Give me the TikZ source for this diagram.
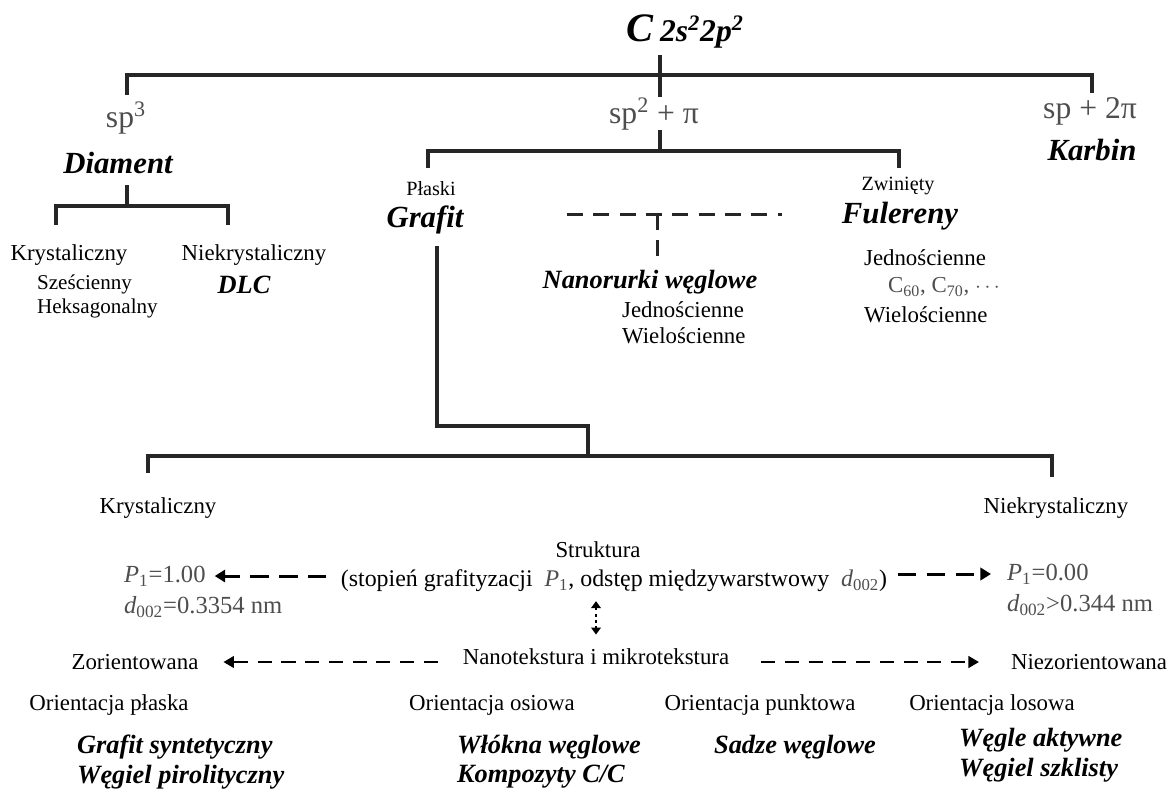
\documentclass[tikz,border=0pt]{standalone}
\usepackage{fontspec}
\setmainfont{Liberation Serif}
\usetikzlibrary{positioning,arrows.meta}
\definecolor{hybgray}{RGB}{78,78,78}

\begin{document}
\begin{tikzpicture}[
        x=0.02cm, y=-0.02cm,
        every node/.style={inner sep=1pt},
        txt/.style={font=\fontsize{13}{15}\selectfont},
        small/.style={font=\fontsize{11.5}{13}\selectfont},
        subtype/.style={font=\fontsize{12}{14}\selectfont},
        family/.style={font=\fontsize{17.5}{20}\selectfont\bfseries\itshape},
        product/.style={font=\fontsize{15}{18}\selectfont\bfseries\itshape},
        hybrid/.style={font=\fontsize{18}{20}\selectfont, text=hybgray},
        param/.style={font=\fontsize{14}{16}\selectfont, text=hybgray, inner xsep=5pt},
        tree/.style={line width=2pt, draw=black!85},
        dashtree/.style={line width=1.7pt, draw=black!85, dash pattern=on 9pt off 6pt},
        strarrow/.style={line width=1.7pt, dash pattern=on 10.5pt off 6pt,
            -{Triangle[length=6pt,width=7pt]}},
        texarrow/.style={line width=1.5pt, dash pattern=on 8pt off 5.5pt,
            -{Triangle[length=6pt,width=6.5pt]}},
        dblarrow/.style={line width=1.3pt, dash pattern=on 1.5pt off 2pt,
            {Triangle[length=4pt,width=5.5pt]}-{Triangle[length=4pt,width=5.5pt]}}
    ]
    \useasboundingbox (0,0) rectangle (1176,789);

    % Atom and hybridisations
    \node (carbon) at (685,31) {{\fontsize{23}{23}\selectfont\bfseries\itshape C}\hspace{4pt}{\fontsize{18}{18}\selectfont\bfseries\itshape 2s\textsuperscript{2}2p\textsuperscript{2}}};
    \node[hybrid] (sp3) at (126,118) {sp\textsuperscript{3}};
    \node[hybrid] (sp2) at (654,114) {sp\textsuperscript{2} + π};
    \node[hybrid] (sp1) at (1090,111) {sp + 2π};

    % Diament
    \node[family] (diam) at (118,163) {Diament};
    \node[txt] (kryst1) at (69,255) {Krystaliczny};
    \node[subtype, anchor=west] (szes) at (35,284) {Sześcienny};
    \node[subtype, anchor=west] (heks) at (35,308) {Heksagonalny};
    \node[txt] (niek1) at (254,255) {Niekrystaliczny};
    \node[product] (dlc) at (244,285) {DLC};

    % sp2 branch
    \node[small] (plaski) at (431,189) {Płaski};
    \node[family] (grafit) at (425,220) {Grafit};
    \node[product] (nanotube) at (650,282) {Nanorurki węglowe};
    \node[txt, anchor=west] (jedn1) at (620,310) {Jednościenne};
    \node[txt, anchor=west] (wiel1) at (620,336) {Wielościenne};
    \node[small] (zwin) at (898,186) {Zwinięty};
    \node[family] (fuler) at (900,216) {Fulereny};
    \node[txt, anchor=west] (jedn2) at (862,258) {Jednościenne};
    \node[txt, anchor=west, text=hybgray] (c60) at (886,287) {C\textsubscript{60}, C\textsubscript{70}, $\cdots$};
    \node[txt, anchor=west] (wiel2) at (862,315) {Wielościenne};

    % Karbin
    \node[family] (karbin) at (1092,150) {Karbin};

    % Tree lines
    \coordinate (stemtop) at (660,55);
    \coordinate (hub) at (660,75);
    \coordinate (stembot) at (660,97);
    \coordinate (sp3end) at (127,95);
    \coordinate (sp1end) at (1092,93);
    \coordinate (sp2bot) at (660,130);
    \coordinate (ghub) at (660,151);
    \coordinate (plend) at (428,168);
    \coordinate (zwend) at (899,168);
    \draw[tree] (stemtop) -- (stembot);
    \draw[tree] (sp3end) |- (hub) -| (sp1end);
    \draw[tree] (sp2bot) -- (ghub);
    \draw[tree] (plend) |- (ghub) -| (zwend);

    \coordinate (dtop) at (127,185);
    \coordinate (dhub) at (127,206);
    \coordinate (dleft) at (56,225);
    \coordinate (dright) at (228,225);
    \draw[tree] (dtop) -- (dhub);
    \draw[tree] (dleft) |- (dhub) -| (dright);

    \coordinate (nleft) at (567,214);
    \coordinate (nright) at (782,214);
    \coordinate (ntee) at (657,214);
    \coordinate (nend) at (657,256);
    \draw[dashtree] (nleft) -- (nright);
    \draw[dashtree] (ntee) -- (nend);

    \coordinate (gtop) at (437,246);
    \coordinate (gbend) at (588,426);
    \coordinate (khub) at (588,456);
    \coordinate (kleft) at (148,473);
    \coordinate (kright) at (1052,477);
    \draw[tree] (gtop) |- (gbend) -- (khub);
    \draw[tree] (kleft) |- (khub) -| (kright);

    % Grafit: struktura
    \node[txt] (kryst2) at (158,508) {Krystaliczny};
    \node[txt] (niek2) at (1056,508) {Niekrystaliczny};
    \node[txt] (strukt) at (598,550) {Struktura};
    \node[txt, font=\fontsize{13.6}{15}\selectfont] (strline) at (614,581) {(stopień grafityzacji\ \ \textcolor{hybgray}{\textit{P}\textsubscript{1}}, odstęp międzywarstwowy\ \ \textcolor{hybgray}{\textit{d}\textsubscript{002}})};
    \node[param, anchor=west] (p1l) at (115,576) {\textit{P}\textsubscript{1}=1.00};
    \node[param, anchor=west] (d1l) at (115,607) {\textit{d}\textsubscript{002}=0.3354 nm};
    \node[param, anchor=west] (p1r) at (998,574) {\textit{P}\textsubscript{1}=0.00};
    \node[param, anchor=west] (d1r) at (998,605) {\textit{d}\textsubscript{002}>0.344 nm};
    \draw[strarrow, shorten <=7pt] (strline.west |- p1l) -- (p1l.east);
    \draw[strarrow, shorten <=5pt, shorten >=4pt] (strline.east |- p1r) -- (p1r.west);

    % Nanotekstura
    \node[txt] (nanotex) at (596,657) {Nanotekstura i mikrotekstura};
    \node[txt] (zor) at (135,662) {Zorientowana};
    \node[txt] (niez) at (1089,662) {Niezorientowana};
    \draw[dblarrow, shorten <=4pt, shorten >=7pt] (strline.south -| nanotex) -- (nanotex.north);
    \draw[texarrow, shorten <=13pt, shorten >=13pt] (nanotex.west |- zor) -- (zor.east);
    \draw[texarrow, shorten <=17pt, shorten >=17pt] (nanotex.east |- niez) -- (niez.west);

    % Orientacje i materialy
    \node[txt] (orpl) at (109,705) {Orientacja płaska};
    \node[txt] (oros) at (492,705) {Orientacja osiowa};
    \node[txt] (orpu) at (760,705) {Orientacja punktowa};
    \node[txt] (orlo) at (992,705) {Orientacja losowa};
    \node[product, anchor=west] (gsyn) at (75,747) {Grafit syntetyczny};
    \node[product, anchor=west] (wpir) at (75,777) {Węgiel pirolityczny};
    \node[product, anchor=west] (wlok) at (455,747) {Włókna węglowe};
    \node[product, anchor=west] (komp) at (455,777) {Kompozyty C/C};
    \node[product] (sadze) at (795,747) {Sadze węglowe};
    \node[product, anchor=west] (wakt) at (957,740) {Węgle aktywne};
    \node[product, anchor=west] (wszk) at (957,770) {Węgiel szklisty};
\end{tikzpicture}
\end{document}
